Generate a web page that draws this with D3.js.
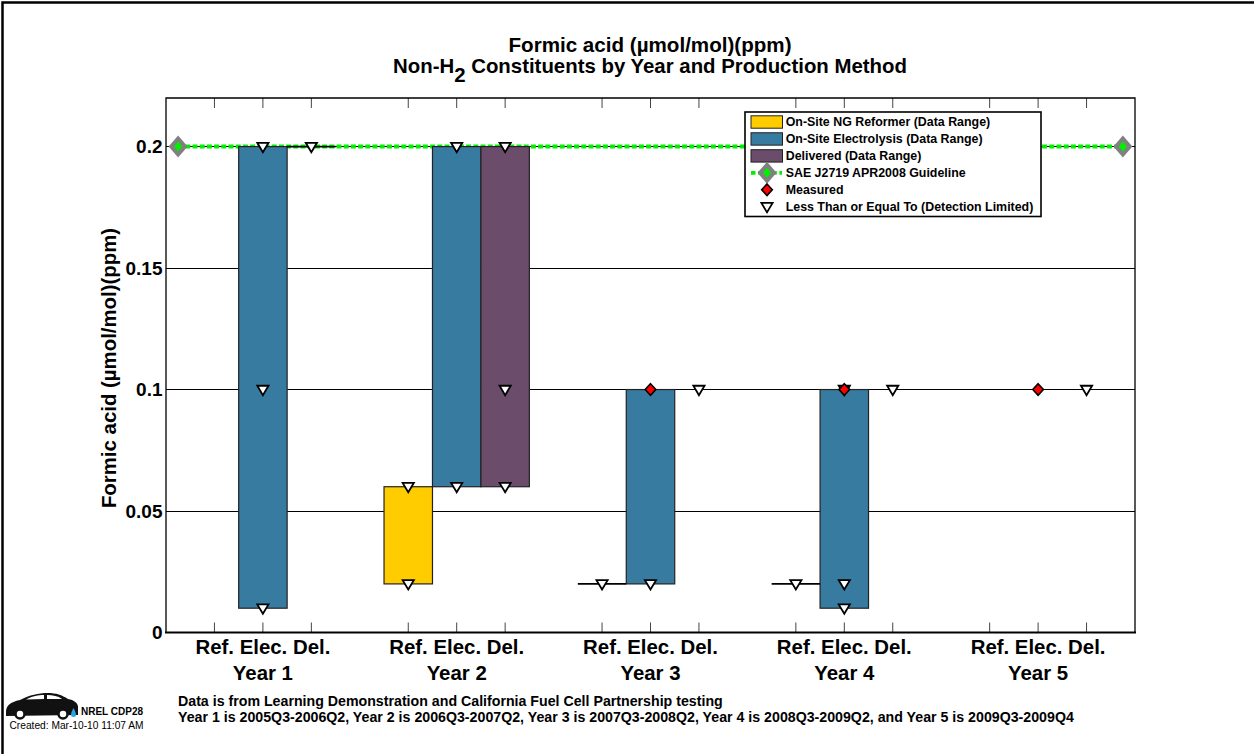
<!DOCTYPE html>
<html><head><meta charset="utf-8">
<script src="https://cdn.jsdelivr.net/npm/d3@7"></script>
<style>
html,body{margin:0;padding:0;background:#fff}
svg{display:block}
text{font-family:"Liberation Sans",Arial,sans-serif;fill:#000}
</style></head><body>
<svg id="c" width="1254" height="754"></svg>
<script>
// ---- data ----
const years = ["Year 1","Year 2","Year 3","Year 4","Year 5"];
const methods = ["Ref.","Elec.","Del."];
const yTicks = [0,0.05,0.1,0.15,0.2];
const tickLabels = ["0","0.05","0.1","0.15","0.2"];
const guideline = 0.2;
// [year index, method index, low, high]
const ranges = [
 [0,1,0.01,0.2],[0,2,0.2,0.2],
 [1,0,0.02,0.06],[1,1,0.06,0.2],[1,2,0.06,0.2],
 [2,0,0.02,0.02],[2,1,0.02,0.1],
 [3,0,0.02,0.02],[3,1,0.01,0.1]
];
const measured = [[2,1,0.1],[3,1,0.1],[4,1,0.1]];
const limited = [
 [0,1,0.2],[0,1,0.1],[0,1,0.01],[0,2,0.2],
 [1,0,0.06],[1,0,0.02],[1,1,0.2],[1,1,0.06],[1,2,0.2],[1,2,0.1],[1,2,0.06],
 [2,0,0.02],[2,1,0.02],[2,2,0.1],
 [3,0,0.02],[3,1,0.1],[3,1,0.02],[3,1,0.01],[3,2,0.1],
 [4,2,0.1]
];
const colors = ["#ffcc00","#387ba0","#6b4c6b"];
const legendRows = ["On-Site NG Reformer (Data Range)","On-Site Electrolysis (Data Range)","Delivered (Data Range)","SAE J2719 APR2008 Guideline","Measured","Less Than or Equal To (Detection Limited)"];
const footLines = ["Data is from Learning Demonstration and California Fuel Cell Partnership testing","Year 1 is 2005Q3-2006Q2, Year 2 is 2006Q3-2007Q2, Year 3 is 2007Q3-2008Q2, Year 4 is 2008Q3-2009Q2, and Year 5 is 2009Q3-2009Q4"];

// ---- layout ----
const L=166,R=1135,T=98,B=632.5;
const x=d3.scaleLinear().domain([0,20]).range([L,R]);
const y=d3.scaleLinear().domain([0,0.22]).range([B,T]);
const pos=(g,m)=>g*4+m+1;
const svg=d3.select("#c");

// page frame
svg.append("path").attr("d","M2.5,754V2.5H1254").attr("fill","none").attr("stroke","#000").attr("stroke-width",2.5);

// title
svg.append("text").attr("x",650).attr("y",52).attr("text-anchor","middle").attr("font-size",20.6).attr("font-weight","bold")
  .text("Formic acid (µmol/mol)(ppm)");
const t2=svg.append("text").attr("x",650).attr("y",73).attr("text-anchor","middle").attr("font-size",20.4).attr("font-weight","bold");
t2.append("tspan").text("Non-H");
t2.append("tspan").attr("dy",8.5).text("2");
t2.append("tspan").attr("dy",-8.5).text(" Constituents by Year and Production Method");

// gridlines
svg.append("g").selectAll("line").data(yTicks.filter(d=>d>0)).join("line")
  .attr("x1",L).attr("x2",R).attr("y1",d=>y(d)).attr("y2",d=>y(d)).attr("stroke","#000").attr("stroke-width",1).attr("shape-rendering","crispEdges");

// ticks along the top and the bottom
const xPos=d3.range(5).flatMap(g=>d3.range(3).map(m=>pos(g,m)));
svg.append("g").selectAll("line").data(xPos).join("line").attr("x1",d=>x(d)).attr("x2",d=>x(d)).attr("y1",T).attr("y2",T+10).attr("stroke","#444").attr("stroke-width",1);
svg.append("g").selectAll("line").data(xPos).join("line").attr("x1",d=>x(d)).attr("x2",d=>x(d)).attr("y1",B).attr("y2",B-10).attr("stroke","#444").attr("stroke-width",1);

// guideline (behind bars)
svg.append("line").attr("x1",x(0.25)).attr("x2",x(19.75)).attr("y1",y(guideline)).attr("y2",y(guideline))
  .attr("stroke","#00f000").attr("stroke-width",4).attr("stroke-dasharray","5 2.2");

// bars
svg.append("g").selectAll("rect").data(ranges.filter(d=>d[2]!==d[3])).join("rect")
  .attr("x",d=>x(pos(d[0],d[1])-0.5)).attr("width",x(1)-x(0))
  .attr("y",d=>y(d[3])).attr("height",d=>y(d[2])-y(d[3]))
  .attr("fill",d=>colors[d[1]]).attr("stroke","#222").attr("stroke-width",1.2);
svg.append("g").selectAll("line").data(ranges.filter(d=>d[2]===d[3])).join("line")
  .attr("x1",d=>x(pos(d[0],d[1])-0.5)).attr("x2",d=>x(pos(d[0],d[1])+0.5))
  .attr("y1",d=>y(d[2])).attr("y2",d=>y(d[2])).attr("stroke","#000").attr("stroke-width",1.8);

// axes box
svg.append("path").attr("d",`M${L},${B}V${T}H${R}V${B}`).attr("fill","none").attr("stroke","#000").attr("stroke-width",1.3);
svg.append("line").attr("x1",L-1).attr("x2",R+1).attr("y1",B).attr("y2",B).attr("stroke","#000").attr("stroke-width",2.2);

// marker helpers
function tri(g,cx,cy){g.append("path").attr("d",`M${cx-5.6},${cy-3.8}H${cx+5.6}L${cx},${cy+5.6}Z`).attr("fill","#fff").attr("stroke","#000").attr("stroke-width",1.8);}
function red(g,cx,cy){g.append("path").attr("d",`M${cx},${cy-5.8}L${cx+5.3},${cy}L${cx},${cy+5.8}L${cx-5.3},${cy}Z`).attr("fill","#f00").attr("stroke","#000").attr("stroke-width",1.6);}
function gd(g,cx,cy){
  g.append("path").attr("d",`M${cx},${cy-11}L${cx+9.5},${cy}L${cx},${cy+11}L${cx-9.5},${cy}Z`).attr("fill","#808080");
  g.append("path").attr("d",`M${cx},${cy-5}L${cx+4},${cy}L${cx},${cy+5}L${cx-4},${cy}Z`).attr("fill","#00f000");
}
const mk=svg.append("g");
limited.forEach(d=>tri(mk,x(pos(d[0],d[1])),y(d[2])));
measured.forEach(d=>red(mk,x(pos(d[0],d[1])),y(d[2])));
gd(mk,x(0.25),y(guideline)); gd(mk,x(19.75),y(guideline));

// y tick labels
svg.append("g").selectAll("text").data(yTicks).join("text")
  .attr("x",L-3.5).attr("y",d=>y(d)+6.9).attr("text-anchor","end").attr("font-size",19).attr("font-weight","bold")
  .text((d,i)=>tickLabels[i]);
// y label
svg.append("text").attr("transform",`translate(116,368) rotate(-90)`).attr("text-anchor","middle").attr("font-size",20.4).attr("font-weight","bold")
  .text("Formic acid (µmol/mol)(ppm)");

// x labels
svg.append("g").selectAll("text").data(d3.range(5)).join("text")
  .attr("x",g=>x(pos(g,1))).attr("y",654).attr("text-anchor","middle").attr("font-size",20.4).attr("font-weight","bold")
  .text(()=>methods.join(" "));
svg.append("g").selectAll("text").data(years).join("text")
  .attr("x",(d,g)=>x(pos(g,1))).attr("y",680).attr("text-anchor","middle").attr("font-size",20.4).attr("font-weight","bold").text(d=>d);

// legend
const lg=svg.append("g");
lg.append("rect").attr("x",745).attr("y",112).attr("width",296).attr("height",104.5).attr("fill","#fff").attr("stroke","#000").attr("stroke-width",1.6);
const rowY=i=>122+i*16.95;
legendRows.forEach((s,i)=>{
  lg.append("text").attr("x",785.7).attr("y",rowY(i)+4.4).attr("font-size",12.4).attr("font-weight","bold").text(s);
  if(i<3) lg.append("rect").attr("x",751).attr("y",rowY(i)-6.2).attr("width",31.5).attr("height",12.4).attr("fill",colors[i]).attr("stroke","#222").attr("stroke-width",1);
});
lg.append("line").attr("x1",751).attr("x2",782).attr("y1",rowY(3)).attr("y2",rowY(3)).attr("stroke","#00f000").attr("stroke-width",3.6).attr("stroke-dasharray","4.5 2.6");
gd(lg,767,rowY(3));
red(lg,767,rowY(4));
tri(lg,767,rowY(5));

// footnotes
footLines.forEach((s,i)=>svg.append("text").attr("x",178).attr("y",706+i*15.6).attr("font-size",14.2).attr("font-weight","bold").text(s));
svg.append("text").attr("x",81).attr("y",715).attr("font-size",10).attr("font-weight","bold").text("NREL CDP28");
svg.append("text").attr("x",9.5).attr("y",729).attr("font-size",10.2).attr("fill","#333").text("Created: Mar-10-10 11:07 AM");

// car logo
const car=svg.append("g");
car.append("path").attr("fill","#111").attr("d","M6,712 C6,706 10,702 20,700 C30,695 38,693 48,693 C56,693 62,695 68,699 C74,700 78,703 78,707 L78,715 L6,716 Z");
car.append("path").attr("fill","#fff").attr("d","M26,699.5 C33,696 38,695 44,695 L44,699 Z M47,695 C53,695 58,696 62,699 L47,699 Z");
[[20,714],[63,714]].forEach(c=>car.append("circle").attr("cx",c[0]).attr("cy",c[1]).attr("r",4.5).attr("fill","#fff").attr("stroke","#111").attr("stroke-width",2.5));
car.append("path").attr("fill","#2aa5e0").attr("d","M73.5,708 C75,711 76,713 76,714.5 A2.5,2.5 0 0 1 71,714.5 C71,713 72,711 73.5,708Z");
</script>
</body></html>
